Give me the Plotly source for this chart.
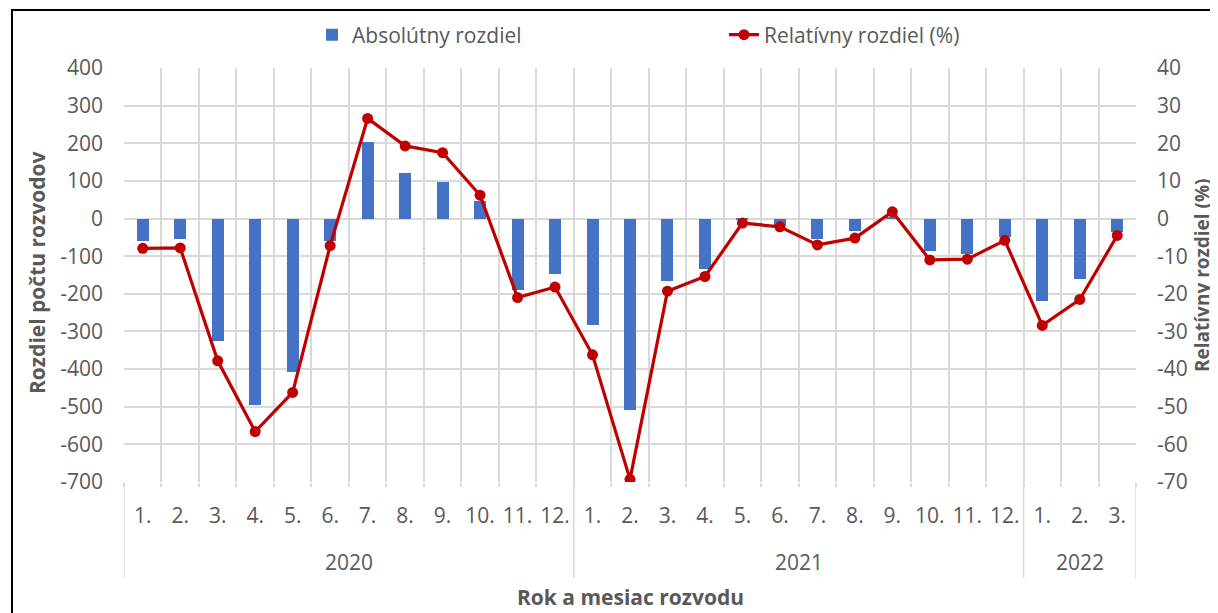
import plotly.graph_objects as go

years = ["2020", "2021", "2022"]
months_per_year = [12, 12, 3]
month_labels = ["1.", "2.", "3.", "4.", "5.", "6.", "7.", "8.", "9.", "10.", "11.", "12.",
                "1.", "2.", "3.", "4.", "5.", "6.", "7.", "8.", "9.", "10.", "11.", "12.",
                "1.", "2.", "3."]
abs_diff = [-60, -55, -325, -495, -408, -60, 204, 121, 97, 47, -189, -148,
            -282, -510, -166, -133, -3, -20, -54, -33, 5, -86, -93, -50,
            -220, -160, -37]
rel_diff = [-7.9, -7.8, -37.8, -56.6, -46.2, -7.2, 26.6, 19.3, 17.5, 6.2, -21.0, -18.2,
            -36.2, -69.3, -19.3, -15.4, -1.2, -2.2, -7.0, -5.2, 1.8, -11.0, -10.8, -5.8,
            -28.4, -21.5, -4.5]
left_tickvals = [400, 300, 200, 100, 0, -100, -200, -300, -400, -500, -600, -700]
left_ticktext = ["400", "300", "200", "100", "0", "-100", "-200", "-300", "-400", "-500", "-600", "-700"]
right_tickvals = [40, 30, 20, 10, 0, -10, -20, -30, -40, -50, -60, -70]
right_ticktext = ["40", "30", "20", "10", "0", "-10", "-20", "-30", "-40", "-50", "-60", "-70"]

x = list(range(len(month_labels)))
FONT = "Open Sans, Noto Sans, sans-serif"
GRAY = "#595959"
GRID = "#d9d9d9"
FS = 21

# page places the figure at an 8px body offset
OFF = 8
W, H = 1218 - OFF, 613 - OFF
L, R, T, B = 124, 1136, 68, 482          # plot area in screen coordinates
pw, ph = R - L, B - T

def px(v):
    return (v - L) / pw

def py(v):
    return (B - v) / ph

fig = go.Figure()
fig.add_trace(go.Bar(x=x, y=abs_diff, name="Absolútny rozdiel",
                     marker=dict(color="#4472C4", line=dict(width=0)), width=0.32))
fig.add_trace(go.Scatter(x=x, y=rel_diff, name="Relatívny rozdiel (%)", yaxis="y2",
                         mode="lines+markers",
                         line=dict(color="#C00000", width=3.2),
                         marker=dict(color="#C00000", size=11)))

shapes = []
annotations = []
start = 0
bounds = [-0.5]
for yr, n in zip(years, months_per_year):
    annotations.append(dict(x=start + (n - 1) / 2, xref="x", y=py(562), yref="paper",
                            xanchor="center", yanchor="middle",
                            text=yr, showarrow=False,
                            font=dict(family=FONT, size=FS, color=GRAY)))
    start += n
    bounds.append(start - 0.5)
for b in bounds:
    shapes.append(dict(type="line", xref="x", yref="paper", x0=b, x1=b,
                       y0=0, y1=py(578), line=dict(color=GRID, width=1.5)))

annotations.append(dict(x=px(630), xref="paper", y=py(597), yref="paper",
                        xanchor="center", yanchor="middle",
                        text="<b>Rok a mesiac rozvodu</b>", showarrow=False,
                        font=dict(family=FONT, size=FS, color=GRAY)))
annotations.append(dict(x=px(37), xref="paper", y=py(273), yref="paper",
                        xanchor="center", yanchor="middle",
                        text="<b>Rozdiel počtu rozvodov</b>", showarrow=False, textangle=-90,
                        font=dict(family=FONT, size=FS, color=GRAY)))
annotations.append(dict(x=px(1202), xref="paper", y=py(275), yref="paper",
                        xanchor="center", yanchor="middle",
                        text="<b>Relatívny rozdiel (%)</b>", showarrow=False, textangle=-90,
                        font=dict(family=FONT, size=19, color=GRAY)))

shapes.append(dict(type="rect", xref="paper", yref="paper",
                   x0=px(12), x1=px(1213), y0=py(640), y1=py(10),
                   line=dict(color="black", width=2), layer="above"))

fig.update_layout(
    width=W, height=H,
    margin=dict(l=L - OFF, r=(W + OFF) - R, t=T - OFF, b=(H + OFF) - B, pad=0, autoexpand=False),
    paper_bgcolor="white", plot_bgcolor="white",
    font=dict(family=FONT, size=FS, color=GRAY),
    bargap=0,
    showlegend=True,
    legend=dict(orientation="h", x=px(312), xanchor="left", y=py(35), yanchor="middle",
                entrywidth=367, entrywidthmode="pixels",
                font=dict(family=FONT, size=FS, color=GRAY), bgcolor="rgba(0,0,0,0)"),
    xaxis=dict(range=[-0.5, len(x) - 0.5], tickmode="array", tickvals=x, ticktext=month_labels,
               showgrid=False, zeroline=False, showline=False, ticks="", automargin=False,
               ticklabelstandoff=19, tickfont=dict(family=FONT, size=FS, color=GRAY),
               minor=dict(tickmode="linear", tick0=0.5, dtick=1, showgrid=True,
                          gridcolor=GRID, gridwidth=1.5, ticks="outside", ticklen=4,
                          tickcolor=GRID, tickwidth=1.5)),
    yaxis=dict(range=[-700, 400], tickmode="array", tickvals=left_tickvals, ticktext=left_ticktext,
               showgrid=True, gridcolor=GRID, gridwidth=1.5, automargin=False,
               zeroline=False, showline=False, ticks="", ticklabelstandoff=20,
               tickfont=dict(family=FONT, size=FS, color=GRAY)),
    yaxis2=dict(range=[-70, 40], tickmode="array", tickvals=right_tickvals, ticktext=right_ticktext,
                overlaying="y", side="right", automargin=False,
                showgrid=False, zeroline=False, showline=False, ticks="", ticklabelstandoff=20,
                tickfont=dict(family=FONT, size=FS, color=GRAY)),
    shapes=shapes,
    annotations=annotations,
)

fig.write_html("out.html")
